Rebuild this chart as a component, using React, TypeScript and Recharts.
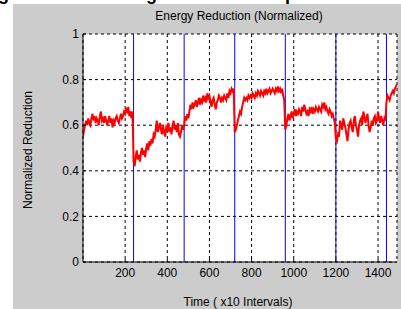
import React from 'react';
import { LineChart, Line, XAxis, YAxis, CartesianGrid, ReferenceLine } from 'recharts';

const sampleStep = 5;
const reduction = [
  // 0 - 235
  0.55, 0.58, 0.6, 0.62, 0.6, 0.63, 0.61, 0.6, 0.63, 0.65, 0.62, 0.64,
  0.61, 0.63, 0.62, 0.6, 0.64, 0.66, 0.62, 0.63, 0.61, 0.64, 0.62, 0.6,
  0.62, 0.64, 0.61, 0.63, 0.59, 0.62, 0.61, 0.63, 0.64, 0.62, 0.61, 0.63,
  0.65, 0.63, 0.64, 0.66, 0.65, 0.67, 0.66, 0.68, 0.64, 0.66, 0.63, 0.66,
  // 240 - 475
  0.44, 0.42, 0.46, 0.49, 0.45, 0.47, 0.44, 0.48, 0.5, 0.47, 0.49, 0.46,
  0.5, 0.52, 0.49, 0.53, 0.51, 0.54, 0.52, 0.56, 0.55, 0.58, 0.62, 0.57,
  0.59, 0.61, 0.58, 0.56, 0.6, 0.57, 0.55, 0.59, 0.58, 0.61, 0.57, 0.59,
  0.56, 0.6, 0.62, 0.58, 0.6, 0.57, 0.61, 0.56, 0.55, 0.57, 0.6, 0.58,
  // 480 - 715
  0.6, 0.64, 0.62, 0.65, 0.63, 0.66, 0.69, 0.67, 0.7, 0.68, 0.69, 0.71,
  0.68, 0.7, 0.72, 0.69, 0.71, 0.7, 0.73, 0.71, 0.72, 0.7, 0.74, 0.72,
  0.73, 0.7, 0.68, 0.71, 0.72, 0.69, 0.67, 0.7, 0.71, 0.73, 0.72, 0.7,
  0.72, 0.71, 0.73, 0.72, 0.71, 0.74, 0.72, 0.75, 0.74, 0.76, 0.75, 0.76,
  // 720 - 955
  0.57, 0.58, 0.6, 0.62, 0.64, 0.66, 0.65, 0.68, 0.7, 0.72, 0.71, 0.72,
  0.71, 0.73, 0.72, 0.73, 0.72, 0.74, 0.73, 0.72, 0.74, 0.73, 0.75, 0.74,
  0.73, 0.75, 0.74, 0.73, 0.75, 0.74, 0.76, 0.74, 0.75, 0.76, 0.74, 0.75,
  0.76, 0.75, 0.74, 0.76, 0.75, 0.77, 0.75, 0.76, 0.74, 0.76, 0.73, 0.71,
  // 960 - 1195
  0.58, 0.6, 0.63, 0.65, 0.62, 0.64, 0.66, 0.63, 0.65, 0.67, 0.64, 0.66,
  0.65, 0.67, 0.66, 0.64, 0.68, 0.66, 0.69, 0.67, 0.65, 0.66, 0.64, 0.67,
  0.66, 0.68, 0.65, 0.67, 0.66, 0.68, 0.67, 0.66, 0.68, 0.67, 0.66, 0.69,
  0.68, 0.7, 0.67, 0.68, 0.66, 0.65, 0.67, 0.66, 0.64, 0.65, 0.63, 0.61,
  // 1200 - 1435
  0.54, 0.53, 0.56, 0.55, 0.62, 0.6, 0.58, 0.63, 0.61, 0.59, 0.56, 0.53,
  0.58, 0.61, 0.62, 0.59, 0.57, 0.62, 0.64, 0.6, 0.58, 0.55, 0.6, 0.62,
  0.63, 0.6, 0.66, 0.64, 0.61, 0.63, 0.65, 0.6, 0.57, 0.59, 0.62, 0.6,
  0.63, 0.64, 0.61, 0.62, 0.66, 0.63, 0.61, 0.64, 0.62, 0.6, 0.63, 0.62,
  // 1440 - 1490
  0.7, 0.73, 0.72, 0.71, 0.73, 0.74, 0.75, 0.74, 0.76, 0.77, 0.78,
];

const xTicks = [200, 400, 600, 800, 1000, 1200, 1400];
const yTicks = [0, 0.2, 0.4, 0.6, 0.8, 1];
const phaseBoundaries = [240, 480, 720, 960, 1200, 1440];

const data = reduction.map((v, i) => ({ t: i * sampleStep, v }));

const font = '"Liberation Sans", Arial, Helvetica, sans-serif';
const tickStyle = { fill: '#000', fontSize: 12, fontFamily: font };

const App: React.FC = () => {
  return (
    <div style={{ position: 'absolute', left: 0, top: 0, width: 401, height: 309, background: '#fff', overflow: 'hidden' }}>
      <div style={{ position: 'absolute', left: 13, top: 4, width: 388, height: 305, background: '#cccccc' }} />
      <div style={{ position: 'absolute', left: 0, top: 0 }}>
        <LineChart width={401} height={309} data={data} margin={{ top: 34, right: 4, bottom: 0, left: 0 }}>
          <CartesianGrid fill="#fff" stroke="#000" strokeDasharray="3 3" />
          <XAxis
            dataKey="t"
            type="number"
            domain={[0, 1490]}
            ticks={xTicks}
            height={47}
            tick={tickStyle}
            tickSize={-3}
            tickMargin={9}
            axisLine={{ stroke: '#000' }}
            tickLine={{ stroke: '#000' }}
            allowDataOverflow
          />
          <XAxis
            xAxisId="top"
            orientation="top"
            type="number"
            domain={[0, 1490]}
            ticks={xTicks}
            height={0}
            tick={false}
            tickSize={-3}
            axisLine={{ stroke: '#000' }}
            tickLine={{ stroke: '#000' }}
          />
          <YAxis
            type="number"
            domain={[0, 1]}
            ticks={yTicks}
            width={83}
            tick={tickStyle}
            tickSize={-3}
            tickMargin={7}
            axisLine={{ stroke: '#000' }}
            tickLine={{ stroke: '#000' }}
            allowDataOverflow
          />
          <YAxis
            yAxisId="right"
            orientation="right"
            type="number"
            domain={[0, 1]}
            ticks={yTicks}
            width={0}
            tick={false}
            tickSize={-3}
            axisLine={{ stroke: '#000' }}
            tickLine={{ stroke: '#000' }}
          />
          {phaseBoundaries.map((x) => (
            <ReferenceLine key={x} x={x} stroke="#0000ff" strokeWidth={1} />
          ))}
          <Line
            type="linear"
            dataKey="v"
            stroke="#ff0000"
            strokeWidth={2}
            dot={false}
            isAnimationActive={false}
          />
        </LineChart>
      </div>
      <svg width={401} height={309} style={{ position: 'absolute', left: 0, top: 0, pointerEvents: 'none' }}>
        <text x={-80} y={-0.5} fontSize={18} fontWeight="bold" fontFamily={font} fill="#000">
          Clustering Reduction Using Extended Sleep
        </text>
        <text x={239} y={20} textAnchor="middle" fontSize={12} fontFamily={font} fill="#000">
          Energy Reduction (Normalized)
        </text>
        <text
          x={32}
          y={150}
          textAnchor="middle"
          fontSize={12}
          fontFamily={font}
          fill="#000"
          transform="rotate(-90 32 150)"
        >
          Normalized Reduction
        </text>
        <text x={238} y={306} textAnchor="middle" fontSize={12} fontFamily={font} fill="#000">
          Time ( x10 Intervals)
        </text>
      </svg>
    </div>
  );
};

export default App;
